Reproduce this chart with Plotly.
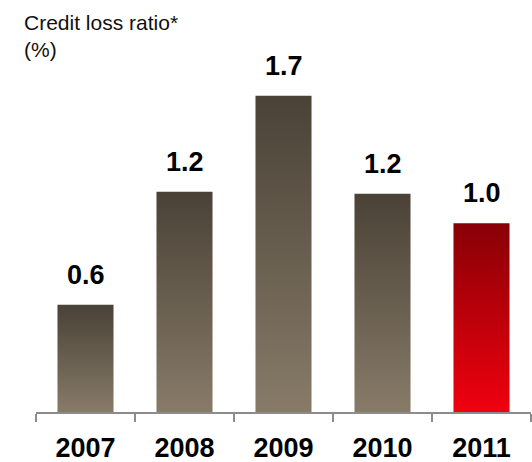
import plotly.graph_objects as go

# ---- data ----
years = ["2007", "2008", "2009", "2010", "2011"]
credit_loss_ratio = [0.58, 1.19, 1.71, 1.18, 1.02]
title_text = "Credit loss ratio*<br>(%)"

# ---- styles ----
gray_grad = [[0, "#877b68"], [1, "#4a4237"]]
red_grad = [[0, "#f0000f"], [1, "#880006"]]
bar_grads = [gray_grad, gray_grad, gray_grad, gray_grad, red_grad]
bar_width = 0.566
FONT = "Arial, Liberation Sans, sans-serif"

fig = go.Figure()

# invisible category trace to establish the category axis
fig.add_trace(go.Scatter(x=years, y=credit_loss_ratio, mode="markers",
                         marker=dict(opacity=0), hoverinfo="skip",
                         showlegend=False, xaxis="x", yaxis="y"))

# gradient bars drawn as filled shapes on an overlaying numeric axis
for i, (v, grad) in enumerate(zip(credit_loss_ratio, bar_grads)):
    x0, x1 = i - bar_width / 2, i + bar_width / 2
    fig.add_trace(go.Scatter(
        x=[x0, x1, x1, x0, x0], y=[0, 0, v, v, 0],
        mode="lines", line=dict(width=0), fill="toself",
        fillgradient=dict(type="vertical", colorscale=grad),
        hoverinfo="skip", showlegend=False, xaxis="x2", yaxis="y"))

annotations = []
for i, v in enumerate(credit_loss_ratio):
    annotations.append(dict(x=i, y=v, xref="x2", yref="y", text=f"<b>{v:.1f}</b>",
                            showarrow=False, yanchor="bottom", yshift=13,
                            font=dict(family=FONT, size=27, color="#000000")))
annotations.append(dict(x=-0.0283, y=1.089, xref="paper", yref="paper", text=title_text,
                        showarrow=False, xanchor="left", yanchor="top", align="left",
                        font=dict(family=FONT, size=21, color="#111111")))

fig.update_layout(
    width=532, height=462,
    margin=dict(l=36, r=1, t=42, b=50, autoexpand=False),
    paper_bgcolor="white", plot_bgcolor="white",
    showlegend=False,
    xaxis=dict(type="category", range=[-0.5, 4.5], tickson="boundaries",
               ticks="outside", ticklen=8, tickwidth=2, tickcolor="#8c8c8c",
               showline=True, linecolor="#8c8c8c", linewidth=2,
               showgrid=False, zeroline=False, fixedrange=True, automargin=False,
               ticklabelstandoff=11,
               tickfont=dict(family=FONT, size=27, color="#000000", weight="bold")),
    xaxis2=dict(overlaying="x", range=[-0.5, 4.5], visible=False, fixedrange=True),
    yaxis=dict(range=[0, 2.0], visible=False, showgrid=False, zeroline=False,
               fixedrange=True, automargin=False),
    annotations=annotations,
)

fig.write_html("out.html",
               config={"displayModeBar": False, "staticPlot": True},
               post_script="document.body.style.margin='0';document.body.style.overflow='hidden';")
